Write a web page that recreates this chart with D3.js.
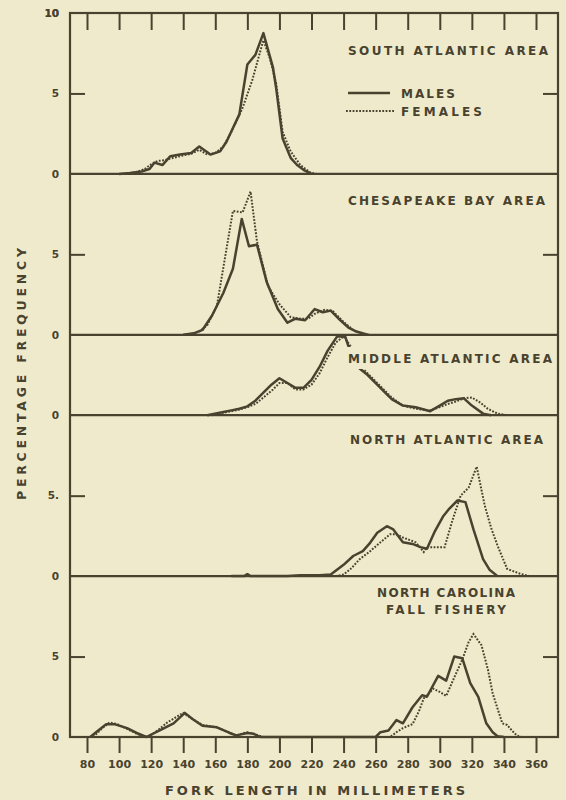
<!DOCTYPE html>
<html>
<head>
<meta charset="utf-8">
<script src="https://cdn.jsdelivr.net/npm/d3@7"></script>
<style>
    body { margin: 0; background: #efeacb; }
    svg { display: block; }
</style>
</head>
<body>
<div id="chart"></div>
<script>

// Fork length (mm) and percentage frequency
var southMales = [[100,0],[107,0.05],[114,0.15],[119,0.3],[122,0.7],[127,0.55],[132,1.1],[138,1.2],[145,1.3],[150,1.7],[157,1.2],[163,1.4],[167,2.0],[171,2.85],[175,3.7],[180,6.8],[185,7.4],[190,8.75],[196,6.6],[198,5.3],[202,2.2],[207,1.0],[211,0.55],[215,0.25],[220,0]];
var southFemales = [[102,0],[110,0.1],[116,0.3],[120,0.6],[124,0.8],[128,0.85],[134,1.0],[140,1.15],[145,1.25],[150,1.5],[155,1.2],[160,1.3],[165,1.7],[170,2.6],[177,4.1],[183,5.8],[188,7.6],[190,8.3],[194,7.2],[198,5.6],[202,2.6],[207,1.4],[213,0.55],[219,0.1],[223,0]];

var chesMales = [[140,0],[147,0.1],[152,0.3],[158,1.2],[165,2.6],[171,4.1],[176.5,7.2],[181,5.5],[186,5.6],[192,3.3],[199,1.6],[205,0.75],[210,1.0],[216,0.9],[222,1.6],[227,1.4],[232,1.5],[238,0.9],[243,0.45],[248,0.2],[255,0]];
var chesFemales = [[142,0],[150,0.2],[155,0.6],[161,1.8],[171,7.7],[177,7.6],[182,8.9],[186,5.8],[193,3.0],[200,1.9],[207,1.1],[213,1.0],[218,1.0],[222,1.3],[228,1.55],[233,1.5],[240,0.8],[246,0.3],[252,0.05],[256,0]];

var midMales = [[155,0],[165,0.2],[170,0.3],[175,0.4],[180,0.55],[185,0.9],[190,1.4],[195,1.9],[200,2.3],[205,2.0],[210,1.7],[215,1.7],[220,2.2],[225,3.0],[230,4.0],[236,4.9],[241,4.9],[243,4.3],[250,2.9],[255,2.5],[260,2.0],[265,1.5],[270,1.0],[277,0.6],[285,0.5],[294,0.25],[300,0.6],[305,0.9],[310,1.0],[315,1.05],[320,0.6],[327,0.1],[332,0]];
var midFemales = [[158,0],[165,0.15],[170,0.25],[175,0.35],[180,0.5],[185,0.7],[190,1.1],[196,1.6],[200,2.0],[205,2.0],[210,1.6],[215,1.6],[220,1.9],[225,2.6],[230,3.6],[235,4.5],[240,4.9],[245,4.2],[250,3.1],[255,2.6],[260,2.1],[265,1.6],[270,1.1],[277,0.6],[285,0.4],[294,0.3],[300,0.5],[305,0.7],[310,0.85],[315,1.05],[320,1.1],[325,0.8],[330,0.4],[336,0.1],[342,0]];

var northMales = [[170,0],[178,0],[180,0.12],[182,0],[205,0],[213,0.05],[225,0.05],[232,0.1],[240,0.7],[246,1.25],[252,1.55],[256,2.0],[261,2.7],[267,3.1],[271,2.9],[277,2.1],[283,2.0],[288,1.8],[292,1.7],[297,2.8],[302,3.7],[306,4.2],[311,4.7],[316,4.6],[321,2.9],[327,1.05],[331,0.4],[336,0]];
var northFemales = [[235,0],[240,0.1],[245,0.5],[250,1.05],[256,1.5],[263,2.1],[269,2.6],[273,2.6],[277,2.4],[281,2.25],[285,2.1],[290,1.5],[292,1.8],[298,1.8],[303,1.8],[308,3.5],[313,5.0],[318,5.5],[323,6.8],[328,4.4],[332,3.0],[336,1.9],[342,0.45],[350,0.15],[356,0]];

var carolinaMales = [[82,0],[87,0.4],[92,0.8],[97,0.8],[105,0.55],[111,0.25],[117,0],[125,0.4],[134,0.85],[141,1.5],[146,1.1],[152,0.7],[161,0.6],[169,0.25],[173,0.1],[180,0.25],[184,0.2],[188,0],[260,0],[263,0.3],[268,0.4],[273,1.05],[277,0.85],[283,1.85],[289,2.6],[292,2.5],[299,3.8],[304,3.5],[309,5.0],[314,4.9],[319,3.35],[324,2.5],[329,0.85],[333,0.3],[336,0.05],[340,0]];
var carolinaFemales = [[84,0],[89,0.5],[94,0.9],[99,0.8],[105,0.5],[111,0.2],[118,0],[124,0.4],[130,0.9],[135,1.2],[140,1.5],[146,1.1],[152,0.75],[161,0.6],[168,0.3],[173,0.1],[180,0.3],[185,0.15],[190,0],[269,0],[273,0.3],[277,0.55],[283,0.8],[287,1.6],[290,2.4],[296,3.0],[300,2.8],[304,2.55],[309,3.7],[314,4.8],[318,5.9],[321,6.4],[326,5.7],[330,4.2],[333,2.7],[339,0.85],[342,0.75],[345,0.4],[348,0.1],[351,0]];

// Axis ticks and labels
var lengthTicks = [80, 100, 120, 140, 160, 180, 200, 220, 240, 260, 280, 300, 320, 340, 360];
var southTickLabels = ["0", "5", "10"];
var chesTickLabels = ["0", "5"];
var midTickLabels = ["0"];
var northTickLabels = ["0", "5."];
var carolinaTickLabels = ["0", "5"];

var ink = "#48422f";
var paper = "#efeacb";
var font = "'DejaVu Sans', sans-serif";

var properties = { width: 566, height: 800, left: 70, right: 558, top: 13, bottom: 737 };

var svg = d3.select("#chart").append("svg")
    .attr("width", properties.width)
    .attr("height", properties.height);

svg.append("rect").attr("width", properties.width).attr("height", properties.height).attr("fill", paper);

// Shared x scale
var xScale = d3.scaleLinear().domain([80, 360]).range([87, 536]);

// Stacked panels: cumulative percent from the bottom of the figure
var stackScale = d3.scaleLinear().domain([0, 45]).range([properties.bottom, properties.top]);

var panels = [
    { title: ["SOUTH ATLANTIC AREA"], base: 35, max: 10, males: southMales, females: southFemales, labels: southTickLabels, tx: 348, ty: [55], tw: [200] },
    { title: ["CHESAPEAKE BAY AREA"], base: 25, max: 10, males: chesMales, females: chesFemales, labels: chesTickLabels, tx: 348, ty: [205], tw: [197] },
    { title: ["MIDDLE ATLANTIC AREA"], base: 20, max: 5, males: midMales, females: midFemales, labels: midTickLabels, tx: 348, ty: [363], tw: [204], knockout: true },
    { title: ["NORTH ATLANTIC AREA"], base: 10, max: 10, males: northMales, females: northFemales, labels: northTickLabels, tx: 350, ty: [444], tw: [193] },
    { title: ["NORTH CAROLINA", "FALL FISHERY"], base: 0, max: 10, males: carolinaMales, females: carolinaFemales, labels: carolinaTickLabels, tx: 446, ty: [597, 614], tw: [138, 120], anchor: "middle" }
];

var line = d3.line()
    .x(function (d) { return xScale(d[0]); });

panels.forEach(function (p) {
    var yScale = d3.scaleLinear().domain([0, p.max]).range([stackScale(p.base), stackScale(p.base + p.max)]);
    var g = svg.append("g").attr("class", "panel");

    // Zero line of the panel
    g.append("line")
        .attr("x1", properties.left).attr("x2", properties.right)
        .attr("y1", yScale(0)).attr("y2", yScale(0))
        .attr("stroke", ink).attr("stroke-width", 2.2);

    // Inward ticks at 5 on both sides
    if (p.max === 10) {
        g.append("g")
            .attr("transform", "translate(" + properties.left + ",0)")
            .call(d3.axisRight(yScale).tickValues([5]).tickSize(15).tickFormat(""))
            .call(function (a) { a.select(".domain").remove(); a.selectAll("line").attr("stroke", ink).attr("stroke-width", 2); });
        g.append("g")
            .attr("transform", "translate(" + properties.right + ",0)")
            .call(d3.axisLeft(yScale).tickValues([5]).tickSize(15).tickFormat(""))
            .call(function (a) { a.select(".domain").remove(); a.selectAll("line").attr("stroke", ink).attr("stroke-width", 2); });
    }

    // Left value labels
    g.selectAll(".ylab")
        .data(p.labels)
        .enter().append("text")
        .attr("x", 59)
        .attr("y", function (d, i) { return yScale(i * 5); })
        .attr("dy", "0.36em")
        .attr("text-anchor", "end")
        .attr("font-family", font).attr("font-size", 10.5).attr("font-weight", "bold")
        .attr("fill", ink)
        .text(function (d) { return d; });

    // Curves
    g.append("path")
        .datum(p.females)
        .attr("d", line.y(function (d) { return yScale(d[1]); }))
        .attr("fill", "none").attr("stroke", ink)
        .attr("stroke-width", 2).attr("stroke-dasharray", "1.8,1.5");
    g.append("path")
        .datum(p.males)
        .attr("d", line.y(function (d) { return yScale(d[1]); }))
        .attr("fill", "none").attr("stroke", ink)
        .attr("stroke-width", 2.5).attr("stroke-linejoin", "round");

    // Label knocks out the curve where they cross
    if (p.knockout) {
        g.append("rect")
            .attr("x", 346).attr("y", p.ty[0] - 16)
            .attr("width", 210).attr("height", 22)
            .attr("fill", paper);
    }

    p.title.forEach(function (t, i) {
        g.append("text")
            .attr("x", p.tx).attr("y", p.ty[i])
            .attr("text-anchor", p.anchor || "start")
            .attr("font-family", font).attr("font-size", 12).attr("font-weight", "bold")
            .attr("fill", ink)
            .attr("textLength", p.tw[i]).attr("lengthAdjust", "spacing")
            .text(t);
    });
});

// Outer frame
svg.append("rect")
    .attr("x", properties.left).attr("y", properties.top)
    .attr("width", properties.right - properties.left)
    .attr("height", properties.bottom - properties.top)
    .attr("fill", "none").attr("stroke", ink).attr("stroke-width", 2.2);

// Top inward ticks
svg.append("g")
    .attr("transform", "translate(0," + properties.top + ")")
    .call(d3.axisBottom(xScale).tickValues(lengthTicks).tickSize(17).tickFormat(""))
    .call(function (a) { a.select(".domain").remove(); a.selectAll("line").attr("stroke", ink).attr("stroke-width", 2); });

// Bottom axis with labels
svg.append("g")
    .attr("transform", "translate(0," + properties.bottom + ")")
    .call(d3.axisBottom(xScale).tickValues(lengthTicks).tickSize(16).tickPadding(7))
    .call(function (a) {
        a.select(".domain").remove();
        a.selectAll("line").attr("stroke", ink).attr("stroke-width", 2);
        a.selectAll("text").attr("fill", ink).attr("font-family", font).attr("font-size", 11).attr("font-weight", "bold");
    });

// "10" at the top of the scale
svg.append("text")
    .attr("x", 59).attr("y", properties.top).attr("dy", "0.36em")
    .attr("text-anchor", "end")
    .attr("font-family", font).attr("font-size", 10.5).attr("font-weight", "bold")
    .attr("fill", ink).text("10");

// Legend
var legend = svg.append("g").attr("class", "legend");
legend.append("line").attr("x1", 348).attr("x2", 390).attr("y1", 93).attr("y2", 93)
    .attr("stroke", ink).attr("stroke-width", 2.5);
legend.append("line").attr("x1", 346).attr("x2", 395).attr("y1", 111).attr("y2", 111)
    .attr("stroke", ink).attr("stroke-width", 2).attr("stroke-dasharray", "1.8,1.5");
legend.append("text").attr("x", 401).attr("y", 97.5)
    .attr("font-family", font).attr("font-size", 12).attr("font-weight", "bold").attr("fill", ink)
    .attr("textLength", 54).attr("lengthAdjust", "spacing").text("MALES");
legend.append("text").attr("x", 401).attr("y", 115.5)
    .attr("font-family", font).attr("font-size", 12).attr("font-weight", "bold").attr("fill", ink)
    .attr("textLength", 81).attr("lengthAdjust", "spacing").text("FEMALES");

// Axis titles
svg.append("text")
    .attr("transform", "translate(26,374) rotate(-90)")
    .attr("text-anchor", "middle")
    .attr("font-family", font).attr("font-size", 12.5).attr("font-weight", "bold").attr("fill", ink)
    .attr("textLength", 252).attr("lengthAdjust", "spacing")
    .text("PERCENTAGE FREQUENCY");

svg.append("text")
    .attr("x", 315).attr("y", 795)
    .attr("text-anchor", "middle")
    .attr("font-family", font).attr("font-size", 13).attr("font-weight", "bold").attr("fill", ink)
    .attr("textLength", 300).attr("lengthAdjust", "spacing")
    .text("FORK LENGTH IN MILLIMETERS");

</script>
</body>
</html>
